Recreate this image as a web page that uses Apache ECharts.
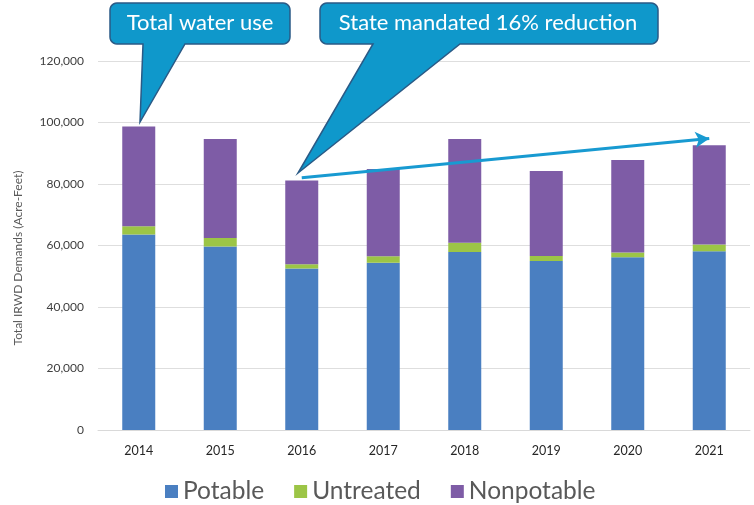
<!DOCTYPE html>
<html>
<head>
<meta charset="utf-8">
<script src="https://cdn.jsdelivr.net/npm/echarts@6/dist/echarts.min.js"></script>
<style>html,body{margin:0;padding:0;background:#fff;}#c{width:754px;height:505px;}</style>
</head>
<body>
<div id="c"></div>
<script>
const years = ['2014','2015','2016','2017','2018','2019','2020','2021'];
const potable = [63600, 59700, 52500, 54400, 57900, 55000, 56200, 58100];
const untreated = [2700, 2700, 1400, 2100, 3000, 1600, 1500, 2200];
const nonpotable = [32400, 32200, 27200, 28400, 33700, 27600, 30100, 32300];
const yTicks = [0, 20000, 40000, 60000, 80000, 100000, 120000];
const trendStart = ['2016', 82000];
const trendEnd = ['2021', 94800];

const FONT = 'Lato';
const colors = { potable: '#4a7fc1', untreated: '#9cc546', nonpotable: '#7e5ca6' };

// rounded box with a tail, as polygon points
function calloutPoints(x0, y0, x1, y1, r, tailA, tailB, tip) {
  const pts = [];
  function arc(cx, cy, a0, a1) {
    const n = 6;
    for (let i = 0; i <= n; i++) {
      const a = a0 + (a1 - a0) * i / n;
      pts.push([cx + r * Math.cos(a), cy + r * Math.sin(a)]);
    }
  }
  arc(x0 + r, y0 + r, Math.PI, 1.5 * Math.PI);
  arc(x1 - r, y0 + r, 1.5 * Math.PI, 2 * Math.PI);
  arc(x1 - r, y1 - r, 0, 0.5 * Math.PI);
  pts.push([tailB, y1]);
  pts.push(tip);
  pts.push([tailA, y1]);
  arc(x0 + r, y1 - r, 0.5 * Math.PI, Math.PI);
  return pts;
}

const chart = echarts.init(document.getElementById('c'), null, { renderer: 'canvas' });
const option = {
  animation: false,
  backgroundColor: '#ffffff',
  textStyle: { fontFamily: FONT },
  grid: { left: 98, right: 4, top: 61, bottom: 75, containLabel: false },
  legend: {
    data: ['Potable', 'Untreated', 'Nonpotable'],
    left: 160, top: 474,
    itemWidth: 13, itemHeight: 13, itemGap: 30,
    icon: 'rect',
    textStyle: { fontFamily: FONT, fontSize: 24.5, color: '#595959' }
  },
  xAxis: {
    type: 'category', data: years,
    axisLine: { show: true, lineStyle: { color: '#d9d9d9', width: 1 } },
    axisTick: { show: false },
    axisLabel: { color: '#262626', fontSize: 12.5, fontFamily: FONT, margin: 14 }
  },
  yAxis: {
    type: 'value', min: 0, max: 120000, interval: 20000,
    axisLine: { show: false }, axisTick: { show: false },
    splitLine: { lineStyle: { color: '#dedede', width: 1 } },
    axisLabel: {
      color: '#404040', fontSize: 12, fontFamily: FONT, margin: 14,
      formatter: v => yTicks.indexOf(v) >= 0 ? v.toLocaleString('en-US') : ''
    }
  },
  series: [
    { name: 'Potable', type: 'bar', stack: 'total', barWidth: 33, data: potable,
      itemStyle: { color: colors.potable } },
    { name: 'Untreated', type: 'bar', stack: 'total', barWidth: 33, data: untreated,
      itemStyle: { color: colors.untreated } },
    { name: 'Nonpotable', type: 'bar', stack: 'total', barWidth: 33, data: nonpotable,
      itemStyle: { color: colors.nonpotable },
      markLine: {
        silent: true, symbol: ['none', 'arrow'], symbolSize: [12, 14],
        label: { show: false },
        lineStyle: { color: '#189ad1', width: 3, type: 'solid' },
        data: [[{ coord: trendStart }, { coord: trendEnd }]]
      } }
  ],
  graphic: [
    { type: 'text', x: 18, y: 258, rotation: Math.PI / 2,
      style: { text: 'Total IRWD Demands (Acre-Feet)', fill: '#595959', font: '12px ' + FONT,
        textAlign: 'center', textVerticalAlign: 'middle' } },
    { type: 'polygon', z: 100,
      shape: { points: calloutPoints(110, 3, 290, 44, 7, 143, 185, [140, 122]) },
      style: { fill: '#0f98cb', stroke: '#2a5a86', lineWidth: 1.5 } },
    { type: 'text', z: 101, x: 200, y: 23,
      style: { text: 'Total water use', fill: '#ffffff', font: '22px ' + FONT,
        textAlign: 'center', textVerticalAlign: 'middle' } },
    { type: 'polygon', z: 100,
      shape: { points: calloutPoints(320, 3, 658, 44, 7, 373, 460, [298, 173]) },
      style: { fill: '#0f98cb', stroke: '#2a5a86', lineWidth: 1.5 } },
    { type: 'text', z: 101, x: 488, y: 23,
      style: { text: 'State mandated 16% reduction', fill: '#ffffff', font: '22px ' + FONT,
        textAlign: 'center', textVerticalAlign: 'middle' } }
  ]
};
chart.setOption(option);
</script>
</body>
</html>
